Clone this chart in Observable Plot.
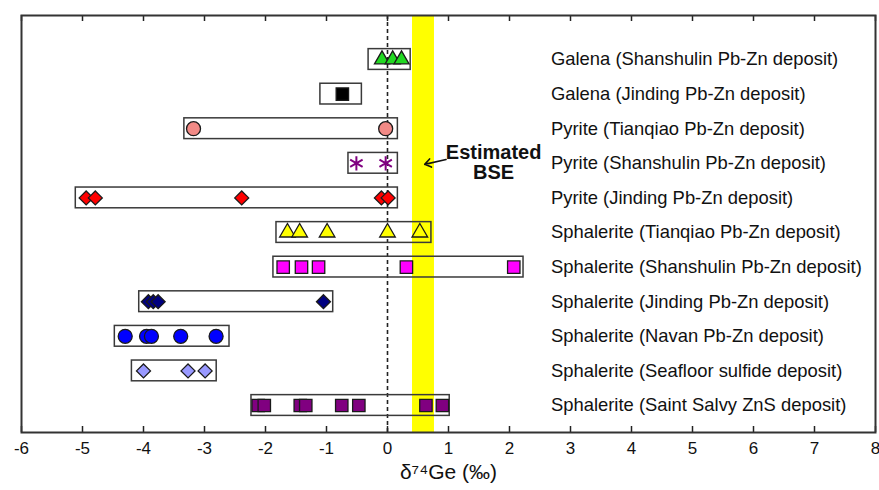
<!DOCTYPE html>
<html>
<head>
<meta charset="utf-8">
<script src="https://cdn.jsdelivr.net/npm/d3@7"></script>
<script src="https://cdn.jsdelivr.net/npm/@observablehq/plot@0.6"></script>
<style>
  body { margin: 0; background: #fff; }
</style>
</head>
<body>
<div id="chart"></div>
<script>
// ---------- data ----------
const rowNames = [
  "Galena (Shanshulin Pb-Zn deposit)",
  "Galena (Jinding Pb-Zn deposit)",
  "Pyrite (Tianqiao Pb-Zn deposit)",
  "Pyrite (Shanshulin Pb-Zn deposit)",
  "Pyrite (Jinding Pb-Zn deposit)",
  "Sphalerite (Tianqiao Pb-Zn deposit)",
  "Sphalerite (Shanshulin Pb-Zn deposit)",
  "Sphalerite (Jinding Pb-Zn deposit)",
  "Sphalerite (Navan Pb-Zn deposit)",
  "Sphalerite (Seafloor sulfide deposit)",
  "Sphalerite (Saint Salvy ZnS deposit)"
];
const galenaShanshulin = [-0.09, 0.085, 0.23];
const galenaJinding = [-0.74];
const pyriteTianqiao = [-3.18, -0.03];
const pyriteShanshulin = [-0.51, -0.03];
const pyriteJinding = [-4.94, -4.79, -2.39, -0.10, 0.01];
const sphaleriteTianqiao = [-1.64, -1.44, -0.99, 0.0, 0.53];
const sphaleriteShanshulin = [-1.71, -1.41, -1.13, 0.31, 2.07];
const sphaleriteJinding = [-3.92, -3.84, -3.76, -1.05];
const sphaleriteNavan = [-4.30, -3.95, -3.87, -3.39, -2.81];
const sphaleriteSeafloor = [-4.00, -3.27, -2.99];
const sphaleriteSaintSalvy = [-2.12, -2.02, -1.43, -1.34, -0.75, -0.47, 0.63, 0.90];
const rowValues = [
  galenaShanshulin, galenaJinding, pyriteTianqiao, pyriteShanshulin, pyriteJinding,
  sphaleriteTianqiao, sphaleriteShanshulin, sphaleriteJinding, sphaleriteNavan,
  sphaleriteSeafloor, sphaleriteSaintSalvy
];
// range boxes (as drawn)
const boxLow  = [-0.31, -1.10, -3.33, -0.64, -5.11, -1.82, -1.87, -4.07, -4.47, -4.19, -2.23];
const boxHigh = [ 0.38, -0.42,  0.17,  0.17,  0.17,  0.72,  2.23, -0.89, -2.59, -2.80,  1.02];
// bulk silicate earth estimate
const bseLow = 0.41;
const bseHigh = 0.77;
const bseLabel = "Estimated\nBSE";
const xTicks = [-6, -5, -4, -3, -2, -1, 0, 1, 2, 3, 4, 5, 6, 7, 8];
const xLabel = "δ⁷⁴Ge (‰)";

// ---------- styles ----------
const rowStyles = [
  {symbol: "triangle", fill: "#22d822", r: 5.6},
  {symbol: "square",   fill: "#000000", r: 7},
  {symbol: "circle",   fill: "#f28a86", r: 7},
  {symbol: "asterisk", fill: "none",    r: 6.8, stroke: "#800080", strokeWidth: 2},
  {symbol: "diamond2", fill: "#ff0000", r: 6.3},
  {symbol: "triangle", fill: "#ffff00", r: 5.8},
  {symbol: "square",   fill: "#ff00ff", r: 7},
  {symbol: "diamond2", fill: "#000080", r: 6.3},
  {symbol: "circle",   fill: "#0000ff", r: 7},
  {symbol: "diamond2", fill: "#9999ff", r: 6.3},
  {symbol: "square",   fill: "#800080", r: 7}
];

const boxes = rowNames.map((name, i) => ({i, lo: boxLow[i], hi: boxHigh[i]}));
const bse = [{lo: bseLow, hi: bseHigh}];
const arrow = [{x1: 0.96, y1: 2.89, x2: 0.61, y2: 3.03}];

const dotMarks = rowValues.map((vals, i) => {
  const s = rowStyles[i];
  return Plot.dot(vals, {
    x: d => d, y: i,
    symbol: s.symbol, fill: s.fill, r: s.r,
    stroke: s.stroke || "#1a1a1a", strokeWidth: s.strokeWidth || 1.3
  });
});

const plot = Plot.plot({
  width: 879,
  height: 490,
  marginLeft: 21,
  marginRight: 4,
  marginTop: 15,
  marginBottom: 58,
  x: {domain: [-6, 8]},
  y: {domain: [-1.272, 10.78], reverse: true, axis: null},
  style: {fontFamily: "'Liberation Sans', Arial, sans-serif", background: "#fff", color: "#111"},
  marks: [
    Plot.rect(bse, {x1: "lo", x2: "hi", fill: "#ffff00"}),
    Plot.ruleX([0], {stroke: "#222", strokeWidth: 1.6, strokeDasharray: "4,3"}),
    Plot.rect(boxes, {x1: "lo", x2: "hi", y1: d => d.i - 0.3, y2: d => d.i + 0.3,
      fill: "none", stroke: "#3a3a3a", strokeWidth: 1.5}),
    ...dotMarks,
    Plot.text(rowNames, {x: 2.68, y: (d, i) => i, textAnchor: "start", fontSize: 18.4, fill: "#111"}),
    Plot.text([bseLabel], {x: 1.74, y: 2.99, fontWeight: "bold", fontSize: 20, lineHeight: 1.0, fill: "#111"}),
    Plot.arrow(arrow, {x1: "x1", y1: "y1", x2: "x2", y2: "y2", stroke: "#111",
      strokeWidth: 1.6, headLength: 10, headAngle: 70}),
    Plot.ruleX(xTicks, {x: d => d, insetTop: 411, stroke: "#222", strokeWidth: 1.5}),
    Plot.ruleX(xTicks, {x: d => d, insetBottom: 411, stroke: "#222", strokeWidth: 1.5}),
    Plot.axisX({ticks: xTicks, tickSize: 0, tickPadding: 9, fontSize: 17,
      tickFormat: d => String(d), label: null}),
    Plot.text([xLabel], {frameAnchor: "bottom", lineAnchor: "middle", dy: 40, fontSize: 21, fill: "#111"}),
    Plot.frame({stroke: "#333", strokeWidth: 2})
  ]
});
document.getElementById("chart").appendChild(plot);
</script>
</body>
</html>
